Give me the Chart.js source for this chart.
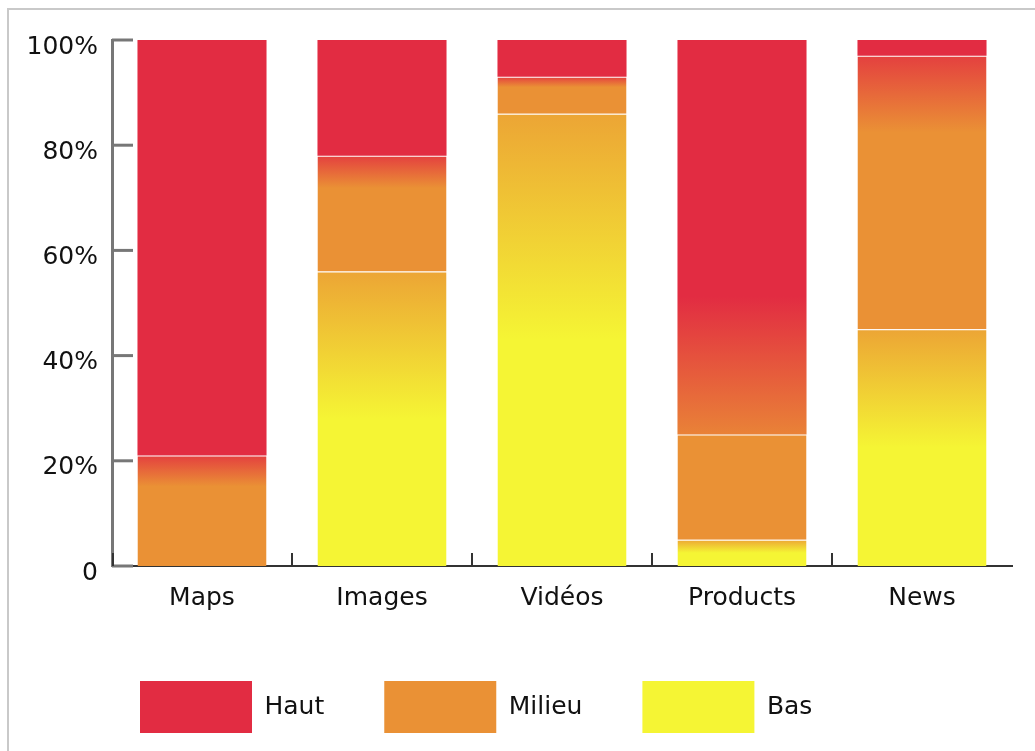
<!DOCTYPE html>
<html>
<head>
<meta charset="utf-8">
<script src="https://cdn.jsdelivr.net/npm/chart.js@4.4.1/dist/chart.umd.min.js"></script>
<style>
  html, body { margin: 0; padding: 0; background: #fff; overflow: hidden; }
  #frame { position: absolute; left: 7px; top: 8px; width: 1100px; height: 800px; border: 2px solid #c9c9c9; box-sizing: border-box; }
  #wrap { position: absolute; left: 0; top: 0; width: 1035px; height: 751px; }
</style>
</head>
<body>
<div id="frame"></div>
<div id="wrap"><canvas id="c" width="1035" height="751"></canvas></div>
<script>
// ---- data ----
const categories = ['Maps', 'Images', 'Vidéos', 'Products', 'News'];
const haut   = [79, 22, 7, 75, 3];
const milieu = [21, 22, 7, 20, 52];
const bas    = [0, 56, 86, 5, 45];
const yTicks = [0, 20, 40, 60, 80, 100];
const yTickLabels = ['0', '20%', '40%', '60%', '80%', '100%'];

// ---- styles ----
const SOLID = { Haut: '#E22C42', Milieu: '#EA9135', Bas: '#F5F534' };
const BLEND_TOP = { Bas: 0.5, Milieu: 0.28, Haut: 0 };
const hautLowerFade = [0, 0, 0, 0.35, 0];
const names = ['Bas', 'Milieu', 'Haut'];      // bottom -> top
const stack = [bas, milieu, haut];

function hex2rgb(h) { return [1, 3, 5].map(i => parseInt(h.substr(i, 2), 16)); }
function mix(a, b, t) {
  const A = hex2rgb(a), B = hex2rgb(b);
  const c = A.map((v, i) => Math.round(v + (B[i] - v) * t));
  return 'rgb(' + c.join(',') + ')';
}

function segFill(c) {
  const k = c.datasetIndex, j = c.dataIndex, name = names[k];
  const chart = c.chart;
  if (!chart.chartArea || c.type !== 'data' || !chart.scales.y) return SOLID[name];
  const ys = chart.scales.y;
  let base = 0;
  for (let m = 0; m < k; m++) base += stack[m][j];
  const top = base + stack[k][j];
  const y0 = ys.getPixelForValue(top), y1 = ys.getPixelForValue(base);
  if (y1 - y0 < 0.5) return SOLID[name];
  const g = chart.ctx.createLinearGradient(0, y0, 0, y1);
  const aboveName = k < 2 ? names[k + 1] : null;
  let topBlend = aboveName && stack[k + 1][j] > 0;
  if (name === 'Milieu' && hautLowerFade[j] > 0) topBlend = false;
  if (topBlend) {
    g.addColorStop(0, mix(SOLID[aboveName], SOLID[name], 0.2));
    g.addColorStop(BLEND_TOP[name], SOLID[name]);
  } else {
    g.addColorStop(0, SOLID[name]);
  }
  if (name === 'Haut' && hautLowerFade[j] > 0) {
    g.addColorStop(1 - hautLowerFade[j], SOLID.Haut);
    g.addColorStop(1, mix(SOLID.Haut, SOLID.Milieu, 0.85));
  } else {
    g.addColorStop(1, SOLID[name]);
  }
  return g;
}

const innerTicks = {
  id: 'innerTicks',
  afterDatasetsDraw(chart) {
    const { ctx, scales: { x, y } } = chart;
    ctx.save();
    ctx.lineCap = 'butt';
    ctx.strokeStyle = '#777';
    ctx.lineWidth = 3;
    yTicks.forEach(v => {
      const py = y.getPixelForValue(v);
      ctx.beginPath(); ctx.moveTo(x.left, py); ctx.lineTo(x.left + 21, py); ctx.stroke();
    });
    ctx.strokeStyle = '#333';
    ctx.lineWidth = 2;
    categories.forEach((cat, i) => {
      const px = i === 0 ? x.left + 1 : (x.getPixelForValue(i - 1) + x.getPixelForValue(i)) / 2;
      ctx.beginPath(); ctx.moveTo(px, y.bottom); ctx.lineTo(px, y.bottom - 13); ctx.stroke();
    });
    ctx.restore();
  }
};

// shift the legend row so it starts under the plot like the original
const legendShift = {
  id: 'legendShift',
  afterLayout(chart) {
    if (chart.legend) chart.legend.left = 80;
  }
};

Chart.defaults.font.family = '"DejaVu Sans", sans-serif';
Chart.defaults.color = '#111';

const datasets = names.map((n, k) => ({
  label: n,
  data: stack[k],
  backgroundColor: segFill,
  borderColor: 'rgba(255,255,255,0.22)',
  borderWidth: n === 'Haut' ? 0 : { top: 1, bottom: 0, left: 0, right: 0 },
  borderSkipped: 'start',
  barPercentage: 0.717,
  categoryPercentage: 1
}));

new Chart(document.getElementById('c'), {
  type: 'bar',
  data: { labels: categories, datasets },
  options: {
    responsive: false,
    devicePixelRatio: 1,
    animation: false,
    layout: { padding: { top: 40, right: 23, bottom: 8, left: 0 } },
    plugins: {
      tooltip: { enabled: false },
      legend: {
        position: 'bottom',
        align: 'start',
        reverse: true,
        labels: {
          boxWidth: 112,
          boxHeight: 52,
          padding: 60,
          font: { size: 25 },
          color: '#111',
          generateLabels(chart) {
            return chart.data.datasets.map((ds, i) => ({
              text: ds.label,
              fillStyle: SOLID[ds.label],
              strokeStyle: SOLID[ds.label],
              lineWidth: 0,
              hidden: false,
              datasetIndex: i,
              fontColor: '#111'
            }));
          }
        }
      }
    },
    scales: {
      x: {
        stacked: true,
        grid: { display: false, drawTicks: false },
        border: { display: true, color: '#333', width: 2 },
        ticks: { font: { size: 25 }, padding: 17, color: '#111' },
        afterFit(s) { s.height = 55; }
      },
      y: {
        stacked: true,
        min: 0,
        max: 100,
        grid: { display: false, drawTicks: false },
        border: { display: true, color: '#777', width: 3 },
        ticks: {
          stepSize: 20,
          padding: 14,
          labelOffset: 7,
          font: { size: 25 },
          color: '#111',
          callback: v => yTickLabels[yTicks.indexOf(v)]
        },
        afterFit(s) { s.width = 112; }
      }
    }
  },
  plugins: [innerTicks, legendShift]
});
</script>
</body>
</html>
